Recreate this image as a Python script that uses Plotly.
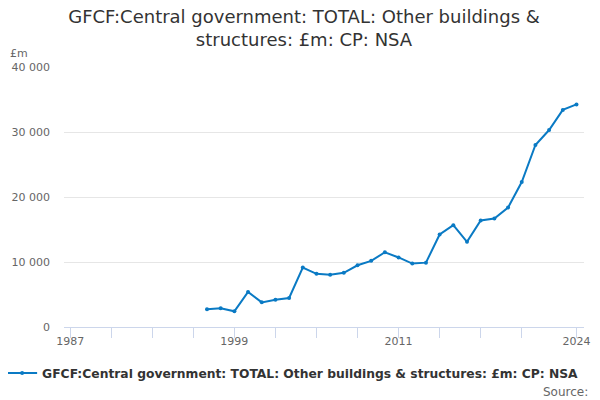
import plotly.graph_objects as go

years = list(range(1997, 2025))
values = [2720, 2870, 2410, 5400, 3790, 4200, 4460, 9150, 8180, 8030,
          8340, 9500, 10180, 11500, 10700, 9760, 9900, 14230, 15660, 13110,
          16400, 16700, 18370, 22300, 28000, 30300, 33400, 34250]
series_name = "GFCF:Central government: TOTAL: Other buildings & structures: £m: CP: NSA"
title_text = "GFCF:Central government: TOTAL: Other buildings &<br>structures: £m: CP: NSA"
tick_years = [1987, 1990, 1993, 1996, 1999, 2002, 2005, 2008, 2011, 2014, 2017, 2020, 2024]
tick_labels = ["1987", "", "", "", "1999", "", "", "", "2011", "", "", "", "2024"]
y_ticks = [0, 10000, 20000, 30000, 40000]
y_labels = ["0", "10 000", "20 000", "30 000", "40 000"]

FONT = "DejaVu Sans"
BLUE = "#0a7ac4"

fig = go.Figure()
fig.add_trace(go.Scatter(
    x=years, y=values, mode="lines+markers", name=series_name,
    line=dict(color=BLUE, width=2),
    marker=dict(size=4, color=BLUE),
))

fig.update_layout(
    width=592, height=392,
    margin=dict(l=56, r=16, t=59, b=73, pad=0, autoexpand=False),
    paper_bgcolor="white", plot_bgcolor="white",
    font=dict(family=FONT, color="#666666", size=11),
    title=dict(text=title_text, x=0.5, xanchor="center", y=0.962, yanchor="top",
               font=dict(family=FONT, size=18, color="#333333")),
    showlegend=True,
    legend=dict(orientation="h", x=-0.119, xanchor="left", y=-0.177, yanchor="middle",
                font=dict(family=FONT, size=12.3, color="#333333", weight="bold"),
                itemwidth=30),
    xaxis=dict(range=[1986.55, 2024.55], tickmode="array", tickvals=tick_years,
               ticktext=tick_labels, showgrid=False, zeroline=False, automargin=False,
               showline=True, linecolor="#ccd6eb", linewidth=1,
               ticks="outside", ticklen=10, tickcolor="#ccd6eb",
               ticklabelstandoff=-6,
               tickfont=dict(size=11, color="#666666")),
    yaxis=dict(range=[0, 40000], tickmode="array", tickvals=y_ticks, ticktext=y_labels,
               showgrid=True, gridcolor="#e6e6e6", zeroline=False, showline=False,
               automargin=False, ticks="", ticklabelstandoff=13,
               tickfont=dict(size=11, color="#666666")),
    annotations=[
        dict(text="£m", xref="paper", yref="paper", x=-0.108, y=1.05, xanchor="left",
             yanchor="middle", showarrow=False, font=dict(size=11, color="#666666")),
        dict(text="Source:", xref="paper", yref="paper", x=1.0115, y=-0.25, xanchor="right",
             yanchor="middle", showarrow=False, font=dict(size=12, color="#666666")),
    ],
)

fig.write_html("out.html")
